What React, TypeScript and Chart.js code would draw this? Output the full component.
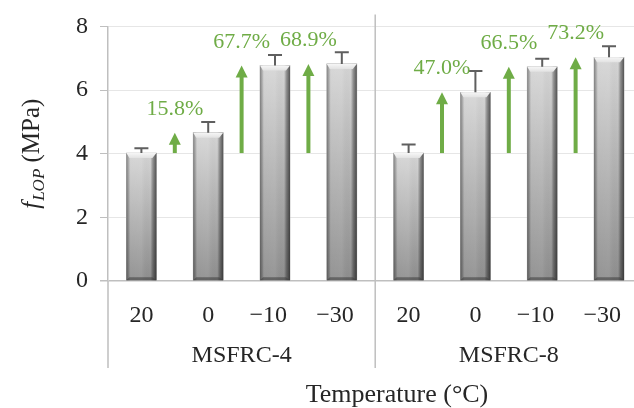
import React, { useEffect, useRef } from 'react';
import { Chart, registerables } from 'chart.js';

Chart.register(...registerables);

// ---- data ----
const categories = ['20', '0', '\u221210', '\u221230', '20', '0', '\u221210', '\u221230'];
const groups = ['MSFRC-4', 'MSFRC-8'];
const groupSize = 4;
const values = [4.02, 4.66, 6.77, 6.82, 4.02, 5.93, 6.73, 7.03];
const errors = [0.15, 0.34, 0.33, 0.37, 0.27, 0.67, 0.25, 0.35];
const increaseLabels = ['', '15.8%', '67.7%', '68.9%', '', '47.0%', '66.5%', '73.2%'];
const yTicks = [0, 2, 4, 6, 8];
const xTitle = 'Temperature (\u00B0C)';

const FONT = "'Liberation Serif', 'Times New Roman', serif";
const TEXT = '#262626';
const GREEN = '#6fac46';
const AXIS = '#bfbfbf';

const decor = {
  id: 'decor',
  afterDatasetsDraw(chart: any) {
    const ctx = chart.ctx as CanvasRenderingContext2D;
    const xs = chart.scales.x;
    const ys = chart.scales.y;
    const meta = chart.getDatasetMeta(0);
    ctx.save();
    meta.data.forEach((bar: any, i: number) => {
      const p = bar.getProps(['x', 'y', 'base', 'width'], true);
      const l = p.x - p.width / 2;
      const r = p.x + p.width / 2;
      const top = p.y;
      const base = p.base;
      const h = base - top;
      const w = p.width;
      // body
      const g = ctx.createLinearGradient(0, top, 0, base);
      g.addColorStop(0, '#d6d6d6');
      g.addColorStop(1, '#8e8e8e');
      ctx.fillStyle = g;
      ctx.fillRect(l, top, w, h);
      // sides
      const hg = ctx.createLinearGradient(l, 0, r, 0);
      hg.addColorStop(0, 'rgba(0,0,0,0.38)');
      hg.addColorStop(0.09, 'rgba(0,0,0,0.12)');
      hg.addColorStop(0.14, 'rgba(255,255,255,0.05)');
      hg.addColorStop(0.5, 'rgba(255,255,255,0.08)');
      hg.addColorStop(0.8, 'rgba(0,0,0,0)');
      hg.addColorStop(0.88, 'rgba(0,0,0,0.3)');
      hg.addColorStop(1, 'rgba(0,0,0,0.6)');
      ctx.fillStyle = hg;
      ctx.fillRect(l, top, w, h);
      // top bevel
      const bv = 5;
      ctx.beginPath();
      ctx.moveTo(l, top);
      ctx.lineTo(r, top);
      ctx.lineTo(r - 4, top + bv);
      ctx.lineTo(l + 3, top + bv);
      ctx.closePath();
      const tg = ctx.createLinearGradient(0, top, 0, top + bv);
      tg.addColorStop(0, '#f6f6f6');
      tg.addColorStop(1, '#e2e2e2');
      ctx.fillStyle = tg;
      ctx.fill();
      // bottom bevel
      ctx.beginPath();
      ctx.moveTo(l, base);
      ctx.lineTo(r, base);
      ctx.lineTo(r - 4, base - 3);
      ctx.lineTo(l + 3, base - 3);
      ctx.closePath();
      ctx.fillStyle = 'rgba(60,60,60,0.55)';
      ctx.fill();

      // error bar (upper)
      const ye = ys.getPixelForValue(values[i] + errors[i]);
      ctx.strokeStyle = '#5f5f5f';
      ctx.lineWidth = 2;
      ctx.beginPath();
      ctx.moveTo(p.x, top);
      ctx.lineTo(p.x, ye);
      ctx.moveTo(p.x - 7, ye);
      ctx.lineTo(p.x + 7, ye);
      ctx.stroke();
    });

    // arrows + percentage labels
    increaseLabels.forEach((lab, i) => {
      if (!lab) return;
      const g0 = Math.floor(i / groupSize) * groupSize;
      const ax = xs.getPixelForValue(i - 0.5);
      const y0 = ys.getPixelForValue(values[g0]);
      const y1 = ys.getPixelForValue(values[i]);
      const headH = 12;
      const headW = 6;
      ctx.strokeStyle = GREEN;
      ctx.fillStyle = GREEN;
      ctx.lineWidth = 4;
      ctx.beginPath();
      ctx.moveTo(ax, y0);
      ctx.lineTo(ax, y1 + headH - 1);
      ctx.stroke();
      ctx.beginPath();
      ctx.moveTo(ax - headW, y1 + headH);
      ctx.lineTo(ax + headW, y1 + headH);
      ctx.lineTo(ax, y1);
      ctx.closePath();
      ctx.fill();
      ctx.font = `22px ${FONT}`;
      ctx.textAlign = 'center';
      ctx.textBaseline = 'alphabetic';
      ctx.fillText(lab, ax, y1 - 18);
    });
    ctx.restore();
  },
  afterDraw(chart: any) {
    const ctx = chart.ctx as CanvasRenderingContext2D;
    const xs = chart.scales.x;
    const area = chart.chartArea;
    const bottomLine = 368;
    ctx.save();
    // separators
    ctx.strokeStyle = AXIS;
    ctx.lineWidth = 1.5;
    ctx.beginPath();
    const lx = xs.getPixelForValue(-0.5);
    ctx.moveTo(lx, area.bottom);
    ctx.lineTo(lx, bottomLine);
    for (let g = 1; g < groups.length; g++) {
      const sx = xs.getPixelForValue(g * groupSize - 0.5);
      ctx.moveTo(sx, area.top - 12);
      ctx.lineTo(sx, bottomLine);
    }
    ctx.stroke();

    // category labels
    ctx.fillStyle = TEXT;
    ctx.textBaseline = 'alphabetic';
    ctx.textAlign = 'center';
    ctx.font = `24px ${FONT}`;
    categories.forEach((c, i) => {
      const px = xs.getPixelForValue(i);
      let shift = 0;
      if (c.startsWith('\u2212')) shift = ctx.measureText('\u2212').width / 2;
      ctx.fillText(c, px - shift, 322);
    });
    // group labels
    groups.forEach((g, gi) => {
      const px = xs.getPixelForValue(gi * groupSize + (groupSize - 1) / 2);
      ctx.fillText(g, px, 362);
    });
    // x title
    ctx.font = `26px ${FONT}`;
    ctx.fillText(xTitle, 397, 402);

    // y title: f_LOP (MPa)
    ctx.translate(30, (area.top + area.bottom) / 2);
    ctx.rotate(-Math.PI / 2);
    ctx.textAlign = 'left';
    const fFont = `italic 25px ${FONT}`;
    const subFont = `italic 17px ${FONT}`;
    const nFont = `25px ${FONT}`;
    ctx.font = fFont;
    const wf = ctx.measureText('f').width;
    ctx.font = subFont;
    const ws = ctx.measureText('LOP').width;
    ctx.font = nFont;
    const wn = ctx.measureText(' (MPa)').width;
    const total = wf + 1 + ws + wn;
    let cx = -total / 2;
    const bl = 9;
    ctx.font = fFont;
    ctx.fillText('f', cx, bl);
    cx += wf + 1;
    ctx.font = subFont;
    ctx.fillText('LOP', cx, bl + 5);
    cx += ws;
    ctx.font = nFont;
    ctx.fillText(' (MPa)', cx, bl);
    ctx.restore();
  },
};

export default function App() {
  const ref = useRef<HTMLCanvasElement | null>(null);
  useEffect(() => {
    if (!ref.current) return;
    const chart = new Chart(ref.current, {
      type: 'bar',
      data: {
        datasets: [
          {
            data: values.map((v, i) => ({ x: i, y: v })),
            backgroundColor: '#b0b0b0',
            borderWidth: 0,
            barThickness: 30,
          },
        ],
      },
      options: {
        responsive: false,
        animation: false,
        events: [],
        layout: { padding: { left: 0, top: 22, right: 0, bottom: 127 } },
        plugins: { legend: { display: false }, tooltip: { enabled: false } },
        scales: {
          x: {
            type: 'linear',
            min: -0.5,
            max: 7.374,
            offset: false,
            display: false,
          },
          y: {
            min: 0,
            max: 8,
            afterFit: (s: any) => {
              s.width = 108;
            },
            afterBuildTicks: (s: any) => {
              s.ticks = yTicks.map((v) => ({ value: v }));
            },
            ticks: {
              color: TEXT,
              padding: 12,
              font: { family: FONT, size: 24 },
            },
            grid: {
              color: (c: any) => (c.tick && c.tick.value === 0 ? AXIS : '#e6e6e6'),
              lineWidth: (c: any) => (c.tick && c.tick.value === 0 ? 1.5 : 1),
              tickLength: 8,
              tickColor: AXIS,
            },
            border: { color: AXIS, width: 1.5 },
          },
        },
      },
      plugins: [decor],
    } as any);
    return () => chart.destroy();
  }, []);
  return (
    <div style={{ position: 'fixed', left: 0, top: 0, width: 634, height: 408, background: '#fff' }}>
      <canvas ref={ref} width={634} height={408} style={{ display: 'block' }} />
    </div>
  );
}
